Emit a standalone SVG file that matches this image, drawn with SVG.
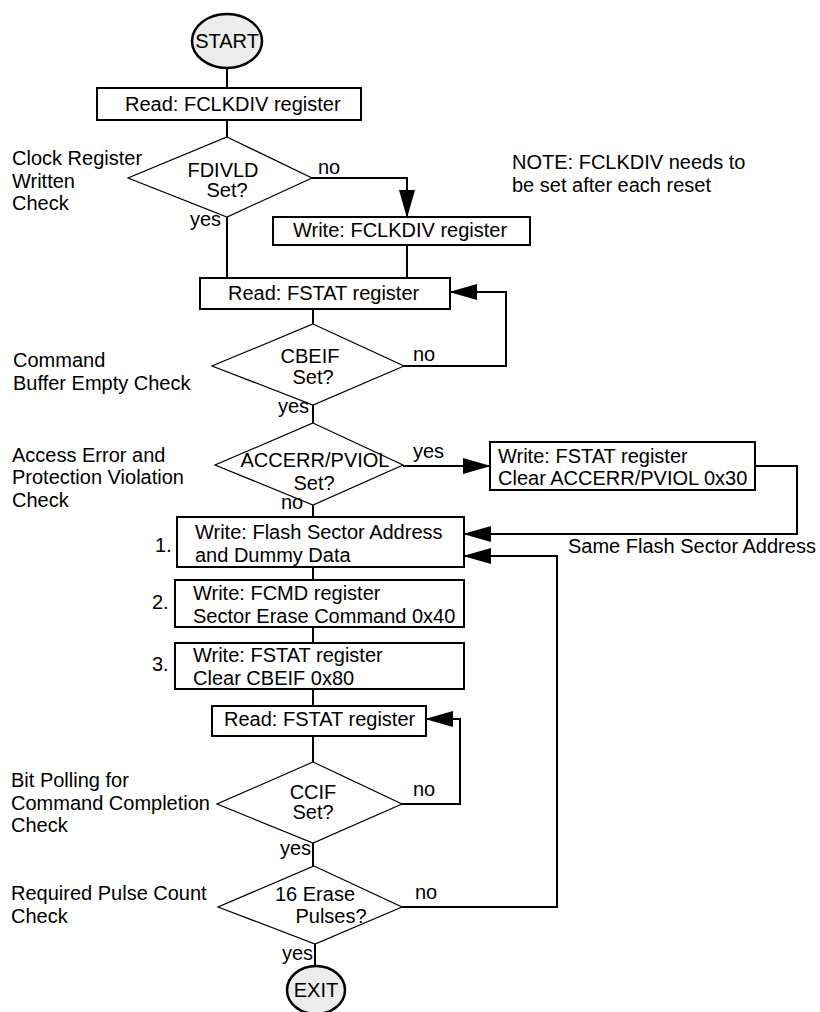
<svg xmlns="http://www.w3.org/2000/svg" width="820" height="1012" viewBox="0 0 820 1012">
<style>
text{font-family:"Liberation Sans",Arial,sans-serif;font-size:20px;fill:#000}
.c{text-anchor:middle}
.box{fill:#fff;stroke:#000;stroke-width:2}
.dia{fill:#fff;stroke:#000;stroke-width:1.2}
.term{fill:#ececec;stroke:#000;stroke-width:2.5}
.ln{fill:none;stroke:#000;stroke-width:2}
.ar{fill:none;stroke:#000;stroke-width:2;marker-end:url(#ah)}
</style>
<defs>
<marker id="ah" markerUnits="userSpaceOnUse" markerWidth="28" markerHeight="16" refX="27" refY="8" orient="auto">
<path d="M0,0 L28,8 L0,16 z" fill="#000"/>
</marker>
</defs>
<rect width="820" height="1012" fill="#fff"/>

<g id="connectors">
<line class="ln" x1="227" y1="68" x2="227" y2="88"/>
<line class="ln" x1="227" y1="120" x2="227" y2="137"/>
<polyline class="ar" points="312,178 407,178 407,217"/>
<line class="ln" x1="227" y1="217" x2="227" y2="278"/>
<line class="ln" x1="407" y1="245" x2="407" y2="278"/>
<line class="ln" x1="313" y1="309" x2="313" y2="324"/>
<polyline class="ar" points="404,366 506,366 506,292 450,292"/>
<line class="ln" x1="313" y1="405" x2="313" y2="423"/>
<line class="ar" x1="403" y1="466" x2="490" y2="466"/>
<polyline class="ar" points="755,466 797,466 797,534 464,534"/>
<line class="ln" x1="313" y1="505" x2="313" y2="517"/>
<line class="ln" x1="313" y1="567" x2="313" y2="580"/>
<line class="ln" x1="313" y1="627" x2="313" y2="643"/>
<line class="ln" x1="313" y1="689" x2="313" y2="706"/>
<line class="ln" x1="313" y1="736" x2="313" y2="762"/>
<polyline class="ar" points="402,804 460,804 460,719 426,719"/>
<line class="ln" x1="313" y1="843" x2="313" y2="866"/>
<polyline class="ar" points="402,907 557,907 557,556 464,556"/>
<line class="ln" x1="315" y1="944" x2="315" y2="967"/>
</g>

<g id="start">
<ellipse class="term" cx="227" cy="41" rx="35" ry="27"/>
<text class="c" x="227" y="48">START</text>
</g>

<g id="read-fclkdiv">
<rect class="box" x="97" y="88" width="264" height="32"/>
<text x="125" y="111">Read: FCLKDIV register</text>
</g>

<g id="fdivld">
<polygon class="dia" points="227,137 312,178 227,217 128,178"/>
<text class="c" x="223" y="177">FDIVLD</text>
<text class="c" x="227" y="197">Set?</text>
<text x="318" y="174">no</text>
<text x="190" y="226">yes</text>
</g>

<g id="label-clock">
<text x="12" y="165">Clock Register</text>
<text x="12" y="188">Written</text>
<text x="12" y="210">Check</text>
</g>

<g id="note">
<text x="512" y="169">NOTE: FCLKDIV needs to</text>
<text x="512" y="192">be set after each reset</text>
</g>

<g id="write-fclkdiv">
<rect class="box" x="273" y="217" width="257" height="28"/>
<text x="293" y="237">Write: FCLKDIV register</text>
</g>

<g id="read-fstat-1">
<rect class="box" x="200" y="278" width="250" height="31"/>
<text x="228" y="300">Read: FSTAT register</text>
</g>

<g id="cbeif">
<polygon class="dia" points="313,324 404,366 313,405 212,366"/>
<text class="c" x="310" y="363">CBEIF</text>
<text class="c" x="313" y="384">Set?</text>
<text x="413" y="361">no</text>
<text x="278" y="413">yes</text>
</g>

<g id="label-command">
<text x="13" y="367">Command</text>
<text x="13" y="390">Buffer Empty Check</text>
</g>

<g id="accerr">
<polygon class="dia" points="313,423 403,465 313,505 215,465"/>
<text class="c" x="315" y="467">ACCERR/PVIOL</text>
<text class="c" x="314" y="490">Set?</text>
<text x="413" y="458">yes</text>
<text x="281" y="509">no</text>
</g>

<g id="label-access">
<text x="12" y="462">Access Error and</text>
<text x="12" y="484">Protection Violation</text>
<text x="12" y="507">Check</text>
</g>

<g id="write-fstat-clear">
<rect class="box" x="490" y="442" width="265" height="48"/>
<text x="498" y="463">Write: FSTAT register</text>
<text x="498" y="485">Clear ACCERR/PVIOL 0x30</text>
</g>

<g id="step1">
<rect class="box" x="177" y="517" width="287" height="50"/>
<text x="195" y="539">Write: Flash Sector Address</text>
<text x="195" y="562">and Dummy Data</text>
<text x="155" y="552">1.</text>
</g>

<g id="label-same">
<text x="568" y="553">Same Flash Sector Address</text>
</g>

<g id="step2">
<rect class="box" x="175" y="580" width="289" height="47"/>
<text x="193" y="600">Write: FCMD register</text>
<text x="193" y="623">Sector Erase Command 0x40</text>
<text x="152" y="609">2.</text>
</g>

<g id="step3">
<rect class="box" x="175" y="643" width="289" height="46"/>
<text x="193" y="662">Write: FSTAT register</text>
<text x="193" y="685">Clear CBEIF 0x80</text>
<text x="152" y="671">3.</text>
</g>

<g id="read-fstat-2">
<rect class="box" x="212" y="706" width="214" height="30"/>
<text x="224" y="726">Read: FSTAT register</text>
</g>

<g id="ccif">
<polygon class="dia" points="313,762 402,804 313,843 217,804"/>
<text class="c" x="313" y="799">CCIF</text>
<text class="c" x="313" y="819">Set?</text>
<text x="413" y="796">no</text>
<text x="280" y="855">yes</text>
</g>

<g id="label-polling">
<text x="11" y="787">Bit Polling for</text>
<text x="11" y="810">Command Completion</text>
<text x="11" y="832">Check</text>
</g>

<g id="pulses">
<polygon class="dia" points="314,866 402,907 315,944 218,907"/>
<text class="c" x="315" y="901">16 Erase</text>
<text class="c" x="331" y="923">Pulses?</text>
<text x="415" y="899">no</text>
<text x="282" y="960">yes</text>
</g>

<g id="label-pulse">
<text x="11" y="900">Required Pulse Count</text>
<text x="11" y="923">Check</text>
</g>

<g id="exit">
<ellipse class="term" cx="316" cy="990" rx="29" ry="24"/>
<text class="c" x="316" y="997">EXIT</text>
</g>
</svg>
